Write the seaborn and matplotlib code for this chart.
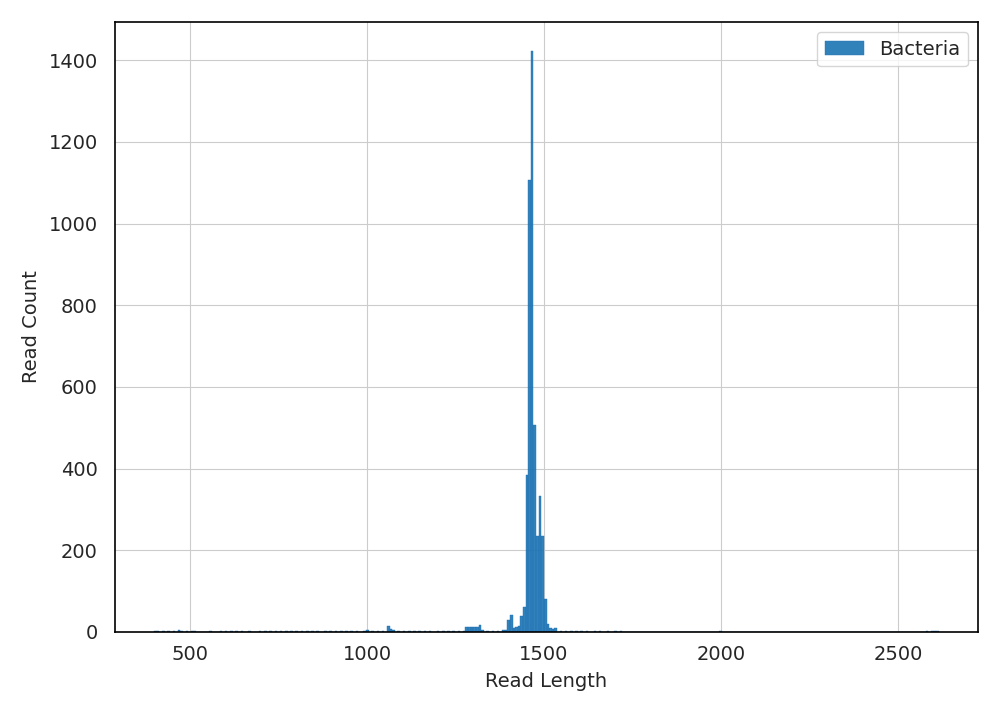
import numpy as np
import pandas as pd
import matplotlib
matplotlib.use("Agg")
import matplotlib.pyplot as plt
import seaborn as sns

# read lengths (bin centres) and how many reads fall there
read_lengths = [400, 410, 425, 440, 455, 470, 480, 495, 505, 515, 560, 590, 605, 620, 635,
                650, 665, 700, 712, 725, 740, 755, 770, 785, 800, 815, 830, 845, 860, 880,
                895, 910, 925, 945, 960, 975, 990, 1000, 1015, 1030, 1045, 1060, 1068, 1075,
                1090, 1105, 1120, 1135, 1150, 1165, 1180, 1200, 1215, 1230, 1245, 1260, 1275,
                1285, 1292, 1300, 1307, 1314, 1321, 1328, 1340, 1355, 1370, 1385, 1392,
                1399, 1407, 1414, 1421, 1429, 1436, 1444, 1451, 1459, 1466, 1473, 1481,
                1488, 1496, 1503, 1510, 1518, 1525, 1532, 1545, 1560, 1575, 1590, 1610,
                1625, 1640, 1660, 1680, 1700, 1720, 2000, 2585, 2595, 2605, 2615]
read_counts = [2, 2, 1, 3, 2, 4, 2, 2, 3, 2, 1, 1, 2, 1, 2,
               2, 1, 2, 3, 2, 2, 1, 2, 1, 2, 1, 2, 2, 1, 2,
               1, 2, 1, 2, 1, 2, 3, 4, 3, 2, 2, 15, 6, 4,
               3, 2, 2, 2, 3, 2, 2, 1, 2, 1, 2, 2, 3,
               12, 12, 13, 12, 12, 16, 5, 1, 2, 2, 4, 5,
               28, 42, 10, 12, 14, 40, 60, 385, 1107, 1422, 507, 235,
               332, 235, 80, 20, 10, 7, 9, 3, 2, 2, 2, 2,
               1, 2, 1, 1, 1, 1, 1, 2, 2, 1, 1]

df = pd.DataFrame({"length": read_lengths, "count": read_counts})

sns.set_style("whitegrid")
plt.rcParams["font.family"] = ["DejaVu Sans"]

fig, ax = plt.subplots(figsize=(10, 7.14), dpi=100)
fig.subplots_adjust(left=0.115, right=0.978, top=0.969, bottom=0.115)

sns.histplot(data=df, x="length", weights="count", bins=300, binrange=(399, 2615),
             color="#1f77b4", alpha=0.92, edgecolor="#1f6fb8", linewidth=0.3,
             label="Bacteria", ax=ax)

ax.set_xlabel("Read Length", fontsize=14, labelpad=6)
ax.set_ylabel("Read Count", fontsize=14, labelpad=5)
ax.tick_params(axis="x", labelsize=14, pad=6)
ax.tick_params(axis="y", labelsize=14, pad=9)
ax.set_xticks([500, 1000, 1500, 2000, 2500])
ax.set_yticks(np.arange(0, 1401, 200))
for sp in ax.spines.values():
    sp.set_color("black")
    sp.set_linewidth(1.2)
ax.legend(loc="upper right", fontsize=14)

fig.savefig("out.png", dpi=100)
